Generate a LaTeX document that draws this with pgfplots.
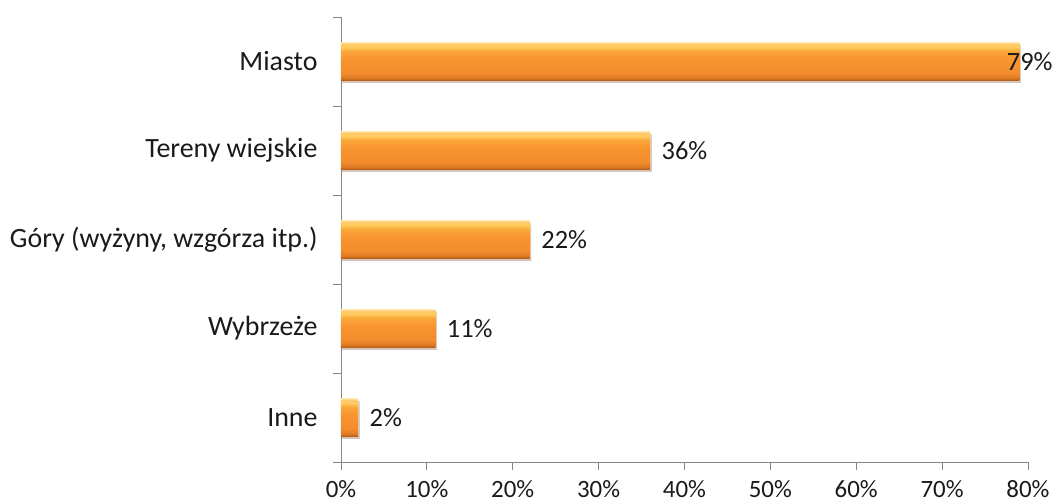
\documentclass[border=0pt]{standalone}
\usepackage{pgfplots}
\pgfplotsset{compat=1.18}
\usepackage{fontspec}
\setmainfont{Carlito}
\definecolor{axisgray}{HTML}{868686}
\definecolor{txt}{HTML}{1A1A1A}
\definecolor{sA}{HTML}{B85C1C}
\definecolor{sB}{HTML}{DC7A22}
\definecolor{sC}{HTML}{F38C2D}
\definecolor{sD}{HTML}{F9962F}
\definecolor{sE}{HTML}{FBA83A}
\definecolor{sF}{HTML}{FFD060}
\definecolor{sG}{HTML}{FFC468}
\definecolor{sH}{HTML}{FFDC96}
\pgfdeclareverticalshading{barshade}{100bp}{%
  color(0bp)=(sA);
  color(25bp)=(sA);
  color(28bp)=(sB);
  color(35bp)=(sC);
  color(55bp)=(sD);
  color(64bp)=(sE);
  color(70bp)=(sF);
  color(73bp)=(sG);
  color(75bp)=(sH);
  color(100bp)=(sH)}
\pgfplotsset{
  orangebar/.style={draw=none, shade, shading=barshade, bar shift=0pt,
    preaction={fill=black, opacity=0.16, transform canvas={xshift=1.5bp, yshift=-2.5bp}}},
}

\begin{document}
\begin{tikzpicture}
\path[use as bounding box] (-341bp,-42bp) rectangle (719bp,462bp);
\begin{axis}[
  at={(0,0)}, anchor=south west, scale only axis,
  width=687bp, height=445bp,
  xbar, xmin=0, xmax=80, ymin=-0.5, ymax=4.5,
  bar width=0.42,
  axis x line*=bottom, axis y line*=left,
  axis line style={axisgray, line width=0.8bp},
  tick align=outside,
  major tick length=8bp, minor tick length=8bp,
  xtick={0,10,...,80},
  xticklabel={\pgfmathprintnumber{\tick}\%},
  x tick style={axisgray, line width=0.8bp},
  xticklabel style={font=\fontsize{25}{29}\selectfont, text=txt, yshift=-7bp},
  ytick={0,...,4},
  yticklabels={Inne, Wybrzeże, {Góry (wyżyny, wzgórza itp.)}, Tereny wiejskie, Miasto},
  minor ytick={-0.5,0.5,...,4.5},
  major y tick style={draw=none},
  minor y tick style={axisgray, line width=0.8bp},
  yticklabel style={font=\fontsize{28}{32}\selectfont, text=txt, xshift=-12bp},
  /pgf/number format/assume math mode=true,
  point meta=x,
  nodes near coords={\pgfmathprintnumber{\pgfplotspointmeta}\%},
  nodes near coords style={anchor=west, font=\fontsize{26.5}{30}\selectfont, text=txt},
]
\addplot[orangebar, every node near coord/.append style={xshift=8bp}] coordinates {(2,0)};
\addplot[orangebar, every node near coord/.append style={xshift=8bp}] coordinates {(11,1)};
\addplot[orangebar, every node near coord/.append style={xshift=8bp}] coordinates {(22,2)};
\addplot[orangebar, every node near coord/.append style={xshift=8bp}] coordinates {(36,3)};
\addplot[orangebar, every node near coord/.append style={xshift=-16bp}] coordinates {(79,4)};
\end{axis}
\end{tikzpicture}
\end{document}
